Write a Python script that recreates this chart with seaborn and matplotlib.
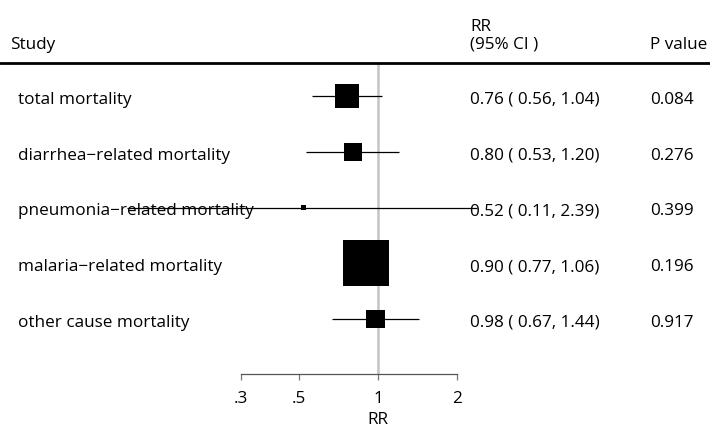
"""
Forest plot: relative risk of mortality by cause (RR, 95% CI, P value).
"""

import matplotlib

matplotlib.use("Agg")
import matplotlib.pyplot as plt  # noqa: E402
import pandas as pd  # noqa: E402
import seaborn as sns  # noqa: E402

# ── Data ──────────────────────────────────────────────────────────────────────
studies = [
    "total mortality",
    "diarrhea\u2212related mortality",
    "pneumonia\u2212related mortality",
    "malaria\u2212related mortality",
    "other cause mortality",
]
rr = [0.76, 0.80, 0.52, 0.90, 0.98]
ci_low = [0.56, 0.53, 0.11, 0.77, 0.67]
ci_high = [1.04, 1.20, 2.39, 1.06, 1.44]
p_values = [0.084, 0.276, 0.399, 0.196, 0.917]
weights = [16.9, 9.5, 0.7, 62.2, 10.6]  # box area ~ study weight (%)

tick_values = [0.3, 0.5, 1, 2]
tick_labels = [".3", ".5", "1", "2"]

df = pd.DataFrame(
    {
        "study": studies,
        "rr": rr,
        "lo": ci_low,
        "hi": ci_high,
        "p": p_values,
        "w": weights,
        "row": range(len(studies)),
    }
)

# ── Style ─────────────────────────────────────────────────────────────────────
sns.set_style("white")
plt.rcParams["font.family"] = ["Open Sans", "DejaVu Sans"]
plt.rcParams["text.color"] = "black"
plt.rcParams["xtick.color"] = "black"
plt.rcParams["axes.labelcolor"] = "black"
FS = 12.3

W, H = 710, 431
fig = plt.figure(figsize=(W / 100, H / 100), dpi=100)
axis_px = 375  # pixel row of the x axis line
ax = fig.add_axes([0, (H - axis_px) / H, 1, axis_px / H])

# log scale: x=1 at pixel 378, 262 px per decade
ax.set_xscale("log")
ax.set_xlim(10 ** (-378 / 262), 10 ** ((W - 378) / 262))
row_px, row0_px = 55.75, 97
ax.set_ylim((axis_px - row0_px) / row_px, -row0_px / row_px)


def py(px):
    """pixel row -> data y"""
    return (px - row0_px) / row_px


# reference line at RR = 1
ax.vlines(1, py(64), py(axis_px), color="#c4c4c4", lw=1.8, zorder=1)

# confidence intervals
ax.hlines(df["row"], df["lo"], df["hi"], color="black", lw=0.9, zorder=2)

# weighted boxes
sns.scatterplot(
    data=df,
    x="rr",
    y="row",
    size="w",
    sizes=(0, 1097),
    size_norm=(0, max(weights)),
    marker="s",
    color="black",
    linewidth=0,
    legend=False,
    ax=ax,
    zorder=3,
)

# ── Text columns ──────────────────────────────────────────────────────────────
tr = ax.get_yaxis_transform()
for _, r in df.iterrows():
    y = r["row"] + 0.05
    ax.text(18 / W, y, r["study"], transform=tr, va="center", fontsize=FS)
    ax.text(
        470 / W,
        y,
        f"{r['rr']:.2f} ( {r['lo']:.2f}, {r['hi']:.2f})",
        transform=tr,
        va="center",
        fontsize=FS,
    )
    ax.text(650 / W, y, f"{r['p']:.3f}", transform=tr, va="center", fontsize=FS)

# header
ax.text(10 / W, py(45), "Study", transform=tr, va="center", fontsize=FS)
ax.text(470 / W, py(27), "RR", transform=tr, va="center", fontsize=FS)
ax.text(470 / W, py(45), "(95% CI )", transform=tr, va="center", fontsize=FS)
ax.text(650 / W, py(45), "P value", transform=tr, va="center", fontsize=FS)
ax.plot([0, 1], [py(64), py(64)], transform=tr, color="black", lw=2, clip_on=False)

# ── Axis ──────────────────────────────────────────────────────────────────────
for side in ["top", "left", "right"]:
    ax.spines[side].set_visible(False)
ax.spines["bottom"].set_bounds(0.3, 2)
ax.spines["bottom"].set_color("#555555")
ax.spines["bottom"].set_linewidth(0.9)
ax.minorticks_off()
ax.set_xticks(tick_values)
ax.set_xticklabels(tick_labels, fontsize=FS)
ax.tick_params(axis="x", bottom=True, length=4.5, width=0.9, color="#777777", pad=7)
ax.set_yticks([])
ax.set_xlabel("RR", fontsize=FS)
ax.xaxis.set_label_coords(378 / W, -(420 - axis_px) / axis_px)
ax.xaxis.label.set_va("center")
ax.set_ylabel("")

fig.savefig("out.png", dpi=100)
plt.close(fig)
